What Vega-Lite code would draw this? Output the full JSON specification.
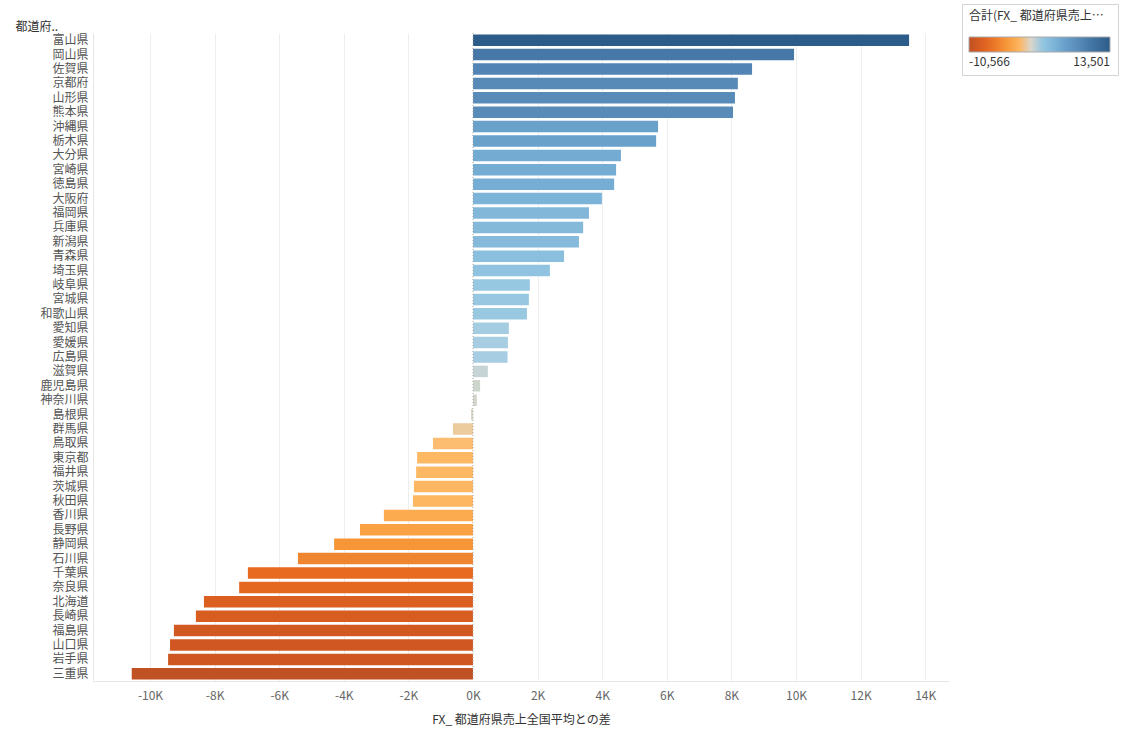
{
  "$schema": "https://vega.github.io/schema/vega-lite/v6.json",
  "width": 856,
  "height": 648,
  "autosize": {"type": "none"},
  "padding": {"left": 93, "top": 33, "right": 173, "bottom": 70},
  "background": "white",
  "config": {"font": "Noto Sans CJK JP", "view": {"stroke": null}},
  "data": {"values": [
    {"pref": "富山県", "diff": 13501},
    {"pref": "岡山県", "diff": 9940},
    {"pref": "佐賀県", "diff": 8640},
    {"pref": "京都府", "diff": 8200},
    {"pref": "山形県", "diff": 8110},
    {"pref": "熊本県", "diff": 8050},
    {"pref": "沖縄県", "diff": 5730},
    {"pref": "栃木県", "diff": 5670},
    {"pref": "大分県", "diff": 4580},
    {"pref": "宮崎県", "diff": 4430},
    {"pref": "徳島県", "diff": 4370},
    {"pref": "大阪府", "diff": 3990},
    {"pref": "福岡県", "diff": 3590},
    {"pref": "兵庫県", "diff": 3410},
    {"pref": "新潟県", "diff": 3280},
    {"pref": "青森県", "diff": 2820},
    {"pref": "埼玉県", "diff": 2380},
    {"pref": "岐阜県", "diff": 1760},
    {"pref": "宮城県", "diff": 1730},
    {"pref": "和歌山県", "diff": 1670},
    {"pref": "愛知県", "diff": 1110},
    {"pref": "愛媛県", "diff": 1080},
    {"pref": "広島県", "diff": 1070},
    {"pref": "滋賀県", "diff": 460},
    {"pref": "鹿児島県", "diff": 220},
    {"pref": "神奈川県", "diff": 120},
    {"pref": "島根県", "diff": -60},
    {"pref": "群馬県", "diff": -620},
    {"pref": "鳥取県", "diff": -1240},
    {"pref": "東京都", "diff": -1730},
    {"pref": "福井県", "diff": -1760},
    {"pref": "茨城県", "diff": -1830},
    {"pref": "秋田県", "diff": -1860},
    {"pref": "香川県", "diff": -2760},
    {"pref": "長野県", "diff": -3500},
    {"pref": "静岡県", "diff": -4300},
    {"pref": "石川県", "diff": -5420},
    {"pref": "千葉県", "diff": -6970},
    {"pref": "奈良県", "diff": -7240},
    {"pref": "北海道", "diff": -8330},
    {"pref": "長崎県", "diff": -8580},
    {"pref": "福島県", "diff": -9260},
    {"pref": "山口県", "diff": -9380},
    {"pref": "岩手県", "diff": -9440},
    {"pref": "三重県", "diff": -10566}
  ]},
  "layer": [
    {
      "mark": {"type": "bar"},
      "encoding": {
        "y": {
          "field": "pref", "type": "nominal", "sort": "-x",
          "scale": {"paddingInner": 0.2, "paddingOuter": 0.1},
          "axis": {
            "title": "都道府..", "titleAngle": 0, "titleAlign": "left", "titleBaseline": "middle",
            "titleX": -78, "titleY": -7, "titleFontSize": 12, "titleFontWeight": "normal", "titleColor": "#333",
            "labelFontSize": 12, "labelColor": "#555", "ticks": false, "labelPadding": 5,
            "domain": true, "domainColor": "#e6e6e6", "grid": false
          }
        },
        "x": {
          "field": "diff", "type": "quantitative",
          "scale": {"domain": [-11765, 14737], "nice": false, "zero": false},
          "axis": {
            "title": "FX_ 都道府県売上全国平均との差",
            "values": [-10000, -8000, -6000, -4000, -2000, 0, 2000, 4000, 6000, 8000, 10000, 12000, 14000],
            "labelExpr": "(datum.value < 0 ? '-' : '') + format(abs(datum.value)/1000,'d') + 'K'",
            "grid": true, "gridColor": "#eeeeee",
            "gridOpacity": {"condition": {"test": "datum.value === 0", "value": 0}, "value": 1},
            "ticks": false, "domainColor": "#e6e6e6",
            "labelColor": "#666", "labelFontSize": 12, "labelPadding": 9,
            "titleFontSize": 12, "titleFontWeight": "normal", "titleColor": "#333", "titlePadding": 13
          }
        },
        "color": {
          "field": "diff", "type": "quantitative",
          "scale": {
            "domain": [-10566, -9440, -8330, -6970, -5420, -4300, -3500, -2760, -1730, -1240, -620, 0, 460, 1080, 1700, 2380, 3280, 3990, 4430, 5700, 8100, 8640, 9940, 13501],
            "range": ["#c05122", "#cf5721", "#db5f21", "#e86a20", "#f08530", "#f69637", "#faa143", "#fcac4f", "#fdb864", "#fdbd70", "#eccb9d", "#d9d5cc", "#c6d4d5", "#a6cde1", "#98c8e1", "#8fc3df", "#86badb", "#7cb3d8", "#74acd4", "#69a1cb", "#588bb8", "#5285b5", "#4679a7", "#2c5c8a"]
          },
          "legend": {
            "orient": "none", "legendX": 869, "legendY": -29, "direction": "horizontal",
            "title": "合計(FX_ 都道府県売上全国平均との差)", "titleLimit": 138,
            "titleFontSize": 12, "titleFontWeight": "normal", "titleColor": "#333", "titlePadding": 14,
            "gradientLength": 141, "gradientThickness": 15, "gradientStrokeColor": "#aaaaaa", "gradientStrokeWidth": 1,
            "values": [-10566, 13501],
            "labelExpr": "(datum.value < 0 ? '-' : '') + format(abs(datum.value), ',')",
            "labelFontSize": 12, "labelColor": "#333", "labelOffset": 5,
            "padding": 7, "strokeColor": "#d4d4d4", "fillColor": "white"
          }
        }
      }
    },
    {
      "data": {"values": [{"diff": 0}]},
      "mark": {"type": "rule", "strokeDash": [1, 2], "color": "#aaaaaa", "strokeWidth": 1},
      "encoding": {"x": {"field": "diff", "type": "quantitative"}}
    }
  ]
}
